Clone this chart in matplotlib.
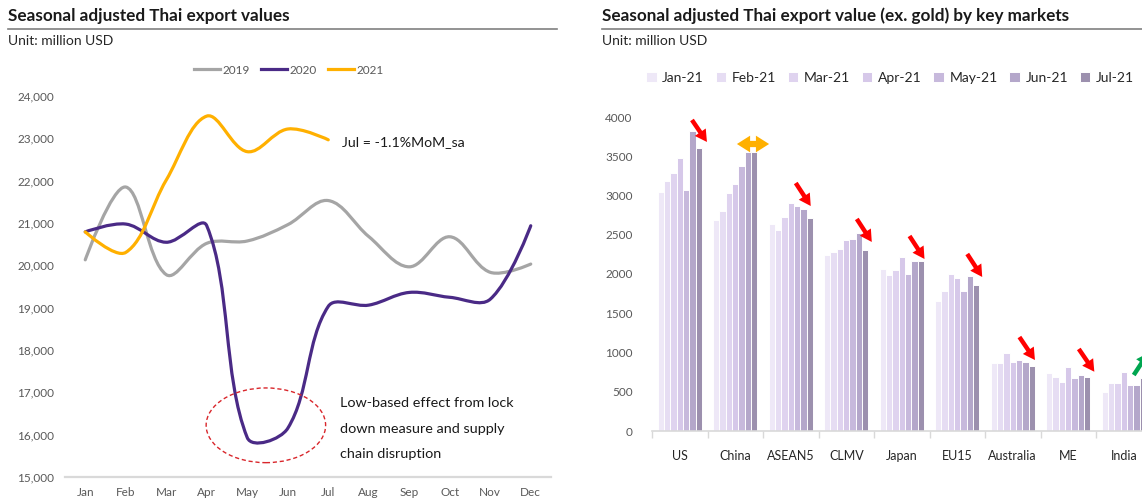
import numpy as np
import matplotlib
matplotlib.use("Agg")
import matplotlib.pyplot as plt
from matplotlib.path import Path
from matplotlib.patches import PathPatch, Ellipse
from matplotlib.lines import Line2D
from matplotlib.ticker import FuncFormatter

plt.rcParams['font.family'] = ['Lato', 'DejaVu Sans']

# ---------------- data ----------------
months = ['Jan', 'Feb', 'Mar', 'Apr', 'May', 'Jun', 'Jul', 'Aug', 'Sep', 'Oct', 'Nov', 'Dec']
exp_2019 = [20130, 21850, 19780, 20520, 20575, 20960, 21530, 20680, 19965, 20675, 19835, 20030]
exp_2020 = [20790, 20975, 20545, 20935, 15930, 16150, 19030, 19060, 19360, 19245, 19200, 20935]
exp_2021 = [20790, 20305, 22015, 23525, 22685, 23220, 22965]

markets = ['US', 'China', 'ASEAN5', 'CLMV', 'Japan', 'EU15', 'Australia', 'ME', 'India']
bar_months = ['Jan-21', 'Feb-21', 'Mar-21', 'Apr-21', 'May-21', 'Jun-21', 'Jul-21']
jan21 = [3050, 2690, 2633, 2246, 2064, 1660, 866, 743, 500]
feb21 = [3185, 2806, 2561, 2280, 1991, 1783, 866, 684, 615]
mar21 = [3290, 3032, 2726, 2315, 2047, 1996, 994, 620, 611]
apr21 = [3478, 3146, 2908, 2429, 2217, 1945, 883, 811, 752]
may21 = [3070, 3376, 2866, 2442, 2000, 1783, 900, 671, 586]
jun21 = [3826, 3550, 2828, 2526, 2166, 1970, 879, 713, 586]
jul21 = [3600, 3550, 2713, 2302, 2166, 1860, 828, 688, 675]
bar_series = [jan21, feb21, mar21, apr21, may21, jun21, jul21]

# ---------------- styles ----------------
W, H = 1142, 503
c2019, c2020, c2021 = '#A5A5A5', '#4A2A86', '#FFB000'
bar_colors = ['#EEE8F7', '#E6DDF3', '#DFD3EF', '#D6C8E9', '#C7B9DC', '#B4A7CA', '#9C90AE']
tick_col = '#595959'

fig = plt.figure(figsize=(W / 100, H / 100), dpi=100)


def px_axes(x0, y_top, x1, y_bot):
    return [x0 / W, (H - y_bot) / H, (x1 - x0) / W, (y_bot - y_top) / H]


def smooth_path(ax, xs, ys, t=0.36):
    pts = ax.transData.transform(np.column_stack([xs, ys]))
    n = len(pts)
    cin = [None] * n
    cout = [None] * n
    for i in range(n):
        if i == 0 or i == n - 1:
            cin[i] = pts[i]
            cout[i] = pts[i]
            continue
        p0, p1, p2 = pts[i - 1], pts[i], pts[i + 1]
        d01 = np.hypot(*(p1 - p0))
        d12 = np.hypot(*(p2 - p1))
        fa = t * d01 / (d01 + d12)
        fb = t * d12 / (d01 + d12)
        cin[i] = p1 - fa * (p2 - p0)
        cout[i] = p1 + fb * (p2 - p0)
    verts = [pts[0]]
    codes = [Path.MOVETO]
    for i in range(n - 1):
        verts += [cout[i], cin[i + 1], pts[i + 1]]
        codes += [Path.CURVE4] * 3
    verts = ax.transData.inverted().transform(np.array(verts))
    return Path(verts, codes)


# ---------------- headers ----------------
fig.text(8 / W, 1 - 16 / H, 'Seasonal adjusted Thai export values', fontsize=12.3,
         fontweight='bold', color='#1A1A1A', ha='left', va='center')
fig.text(602 / W, 1 - 16 / H, 'Seasonal adjusted Thai export value (ex. gold) by key markets',
         fontsize=12.3, fontweight='bold', color='#1A1A1A', ha='left', va='center')
fig.add_artist(Line2D([8 / W, 557 / W], [1 - 28.5 / H] * 2, color='#808080', lw=1.2))
fig.add_artist(Line2D([602 / W, 1.0], [1 - 28.5 / H] * 2, color='#808080', lw=1.2))
fig.text(8 / W, 1 - 41 / H, 'Unit: million USD', fontsize=10, color='#262626', ha='left', va='center')
fig.text(602 / W, 1 - 41 / H, 'Unit: million USD', fontsize=10, color='#262626', ha='left', va='center')

# ---------------- left chart ----------------
ax1 = fig.add_axes(px_axes(65, 96, 551, 477))
ax1.set_xlim(-0.5, 11.5)
ax1.set_ylim(15000, 24000)
for s in ['top', 'right', 'left']:
    ax1.spines[s].set_visible(False)
ax1.spines['bottom'].set_color('#D9D9D9')
ax1.spines['bottom'].set_linewidth(1.6)
ax1.set_xticks(range(12))
ax1.set_xticklabels(months)
ax1.set_yticks(range(15000, 24001, 1000))
ax1.yaxis.set_major_formatter(FuncFormatter(lambda v, p: f'{int(v):,}'))
ax1.tick_params(axis='x', length=0, pad=7, labelsize=8.5, labelcolor=tick_col)
ax1.tick_params(axis='y', length=0, pad=8, labelsize=8.5, labelcolor=tick_col)

for vals, col in [(exp_2019, c2019), (exp_2020, c2020), (exp_2021, c2021)]:
    xs = np.arange(len(vals))
    path = smooth_path(ax1, xs, vals)
    ax1.add_patch(PathPatch(path, fill=False, edgecolor=col, lw=2.3,
                            capstyle='round', joinstyle='round'))

handles = [Line2D([], [], color=c, lw=2.3) for c in (c2019, c2020, c2021)]
fig.legend(handles, ['2019', '2020', '2021'], loc='center', ncol=3,
           bbox_to_anchor=(289 / W, 1 - 70 / H), frameon=False, fontsize=8.5,
           handlelength=2.2, handletextpad=0.25, columnspacing=0.9,
           labelcolor=tick_col)

ax1.text(6.34, 22920, 'Jul = -1.1%MoM_sa', fontsize=10.2, color='#1A1A1A',
         ha='left', va='center')
ax1.text(6.29, 16134, 'Low-based effect from lock\ndown measure and supply\nchain disruption',
         fontsize=10.4, color='#1A1A1A', ha='left', va='center', linespacing=2.35)
ax1.add_patch(Ellipse((4.46, 16221), 2.95, 1765, fill=False, edgecolor='#D9262B',
                      lw=1.0, linestyle=(0, (3, 2))))

# ---------------- right chart ----------------
ax2 = fig.add_axes(px_axes(652, 117, 652 + 9 * 55.5, 431))
ax2.set_xlim(-0.5, 8.5)
ax2.set_ylim(0, 4000)
for s in ['top', 'right', 'left']:
    ax2.spines[s].set_visible(False)
ax2.spines['bottom'].set_color('#D9D9D9')
ax2.spines['bottom'].set_linewidth(1.2)

x = np.arange(len(markets))
nb = len(bar_series)
bw = 0.8 / nb
for j, (vals, col, lab) in enumerate(zip(bar_series, bar_colors, bar_months)):
    ax2.bar(x + (j - (nb - 1) / 2) * bw, vals, width=bw, color=col,
            edgecolor='white', linewidth=0.7, label=lab)

ax2.set_xticks(x)
ax2.set_xticklabels(markets)
ax2.set_xticks(np.arange(-0.5, 9.0, 1.0), minor=True)
ax2.tick_params(axis='x', which='major', length=0, pad=14, labelsize=9, labelcolor='#262626')
ax2.tick_params(axis='x', which='minor', length=5, width=1, color='#D9D9D9')
ax2.set_yticks(range(0, 4001, 500))
ax2.tick_params(axis='y', length=0, pad=14, labelsize=8.5, labelcolor=tick_col)

h2, l2 = ax2.get_legend_handles_labels()
fig.legend(h2, l2, loc='center', ncol=7, bbox_to_anchor=(890 / W, 1 - 78 / H),
           frameon=False, fontsize=10, handlelength=0.75, handleheight=0.75,
           handletextpad=0.4, columnspacing=0.85, labelcolor='#262626')

# arrows (annotations)
red_arrows = [
    ((0.22, 3962), (0.49, 3682)),
    ((2.09, 3159), (2.36, 2866)),
    ((3.19, 2701), (3.46, 2408)),
    ((4.14, 2484), (4.41, 2191)),
    ((5.18, 2255), (5.45, 1962)),
    ((6.12, 1197), (6.40, 904)),
    ((7.19, 1045), (7.47, 755)),
]
astyle = 'simple,tail_width=0.32,head_width=0.95,head_length=0.85'
for tail, tip in red_arrows:
    ax2.annotate('', xy=tip, xytext=tail,
                 arrowprops=dict(arrowstyle=astyle, color='#FF0000', lw=0,
                                 mutation_scale=10, shrinkA=0, shrinkB=0))
ax2.annotate('', xy=(8.44, 994), xytext=(8.18, 713), annotation_clip=False,
             arrowprops=dict(arrowstyle=astyle, color='#00A650', lw=0,
                             mutation_scale=10, shrinkA=0, shrinkB=0))
for end in (1.03, 1.61):
    ax2.annotate('', xy=(end, 3656), xytext=(1.32, 3656),
                 arrowprops=dict(arrowstyle='simple,tail_width=0.45,head_width=1.2,head_length=0.95',
                                 color='#FFB000', lw=0, mutation_scale=10,
                                 shrinkA=0, shrinkB=0))

fig.savefig('out.png', dpi=100)
